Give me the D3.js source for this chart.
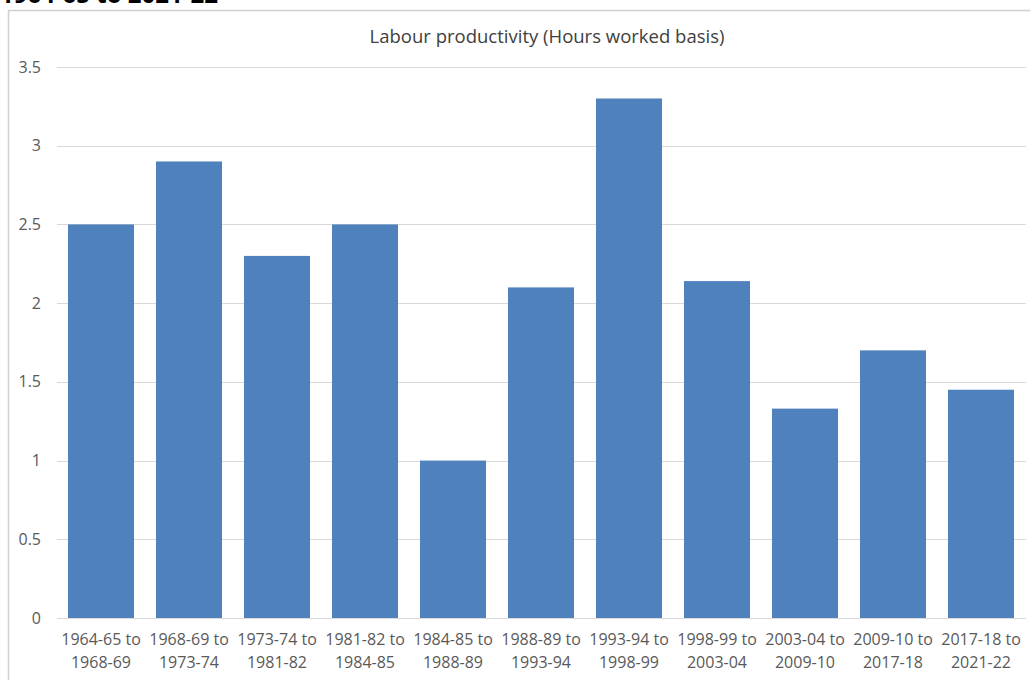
<!DOCTYPE html>
<html>
<head>
<meta charset="utf-8">
<script src="https://cdn.jsdelivr.net/npm/d3@7"></script>
<style>
  body { margin: 0; background: #fff; }
  svg text { font-family: "Open Sans", "Liberation Sans", sans-serif; }
</style>
</head>
<body>
<div id="chart"></div>
<script>
// data
var categories = ["1964-65 to 1968-69", "1968-69 to 1973-74", "1973-74 to 1981-82", "1981-82 to 1984-85",
  "1984-85 to 1988-89", "1988-89 to 1993-94", "1993-94 to 1998-99", "1998-99 to 2003-04",
  "2003-04 to 2009-10", "2009-10 to 2017-18", "2017-18 to 2021-22"];
var values = [2.5, 2.9, 2.3, 2.5, 1.0, 2.1, 3.3, 2.14, 1.33, 1.7, 1.45];
var yTicks = [0, 0.5, 1, 1.5, 2, 2.5, 3, 3.5];
var title = "Labour productivity (Hours worked basis)";
var heading = "1964-65 to 2021-22";

var width = 1030, height = 680;
var margin = {left: 57, right: 5, top: 67, bottom: 62};

var svg = d3.select("#chart").append("svg")
  .attr("width", width)
  .attr("height", height);

// heading above the chart box, cut off by the top edge as in the source
svg.append("text")
  .attr("x", 0)
  .attr("y", 3)
  .attr("font-size", 24)
  .attr("font-weight", "bold")
  .attr("fill", "#000")
  .text(heading);

// chart box border
svg.append("path")
  .attr("d", "M8.5," + height + " L8.5,10.5 L" + width + ",10.5")
  .attr("fill", "none")
  .attr("stroke", "#d0d0d0")
  .attr("stroke-width", 1.5);

var xScale = d3.scaleBand()
  .domain(categories)
  .range([margin.left, width - margin.right])
  .paddingInner(0.25)
  .paddingOuter(0.125);

var yScale = d3.scaleLinear()
  .domain([0, 3.5])
  .range([height - margin.bottom, margin.top]);

// gridlines
svg.append("g")
  .selectAll("line")
  .data(yTicks)
  .enter().append("line")
  .attr("x1", margin.left)
  .attr("x2", width - 4)
  .attr("y1", function(d) { return Math.round(yScale(d)) + 0.5; })
  .attr("y2", function(d) { return Math.round(yScale(d)) + 0.5; })
  .attr("stroke", "#d9d9d9")
  .attr("stroke-width", 1);

// y axis labels
var yAxis = d3.axisLeft(yScale).tickValues(yTicks).tickSize(0).tickPadding(0)
  .tickFormat(function(d) { return String(d); });
var gy = svg.append("g")
  .attr("transform", "translate(" + (margin.left - 16) + ",0)")
  .call(yAxis);
gy.select(".domain").remove();
gy.selectAll("text")
  .attr("font-size", 16)
  .attr("fill", "#595959");

// bars
svg.append("g")
  .selectAll("rect")
  .data(values)
  .enter().append("rect")
  .attr("x", function(d, i) { return xScale(categories[i]); })
  .attr("width", xScale.bandwidth())
  .attr("y", function(d) { return yScale(d); })
  .attr("height", function(d) { return yScale(0) - yScale(d); })
  .attr("fill", "#4F81BD");

// x labels, two lines each
var xl = svg.append("g")
  .selectAll("text")
  .data(categories)
  .enter().append("text")
  .attr("text-anchor", "middle")
  .attr("font-size", 16)
  .attr("fill", "#595959");
xl.append("tspan")
  .attr("x", function(d) { return xScale(d) + xScale.bandwidth() / 2; })
  .attr("y", 645)
  .text(function(d) { return d.split(" to ")[0] + " to"; });
xl.append("tspan")
  .attr("x", function(d) { return xScale(d) + xScale.bandwidth() / 2; })
  .attr("y", 668)
  .text(function(d) { return d.split(" to ")[1]; });

// title
svg.append("text")
  .attr("x", 547)
  .attr("y", 43)
  .attr("text-anchor", "middle")
  .attr("font-size", 18.5)
  .attr("fill", "#404040")
  .text(title);
</script>
</body>
</html>
